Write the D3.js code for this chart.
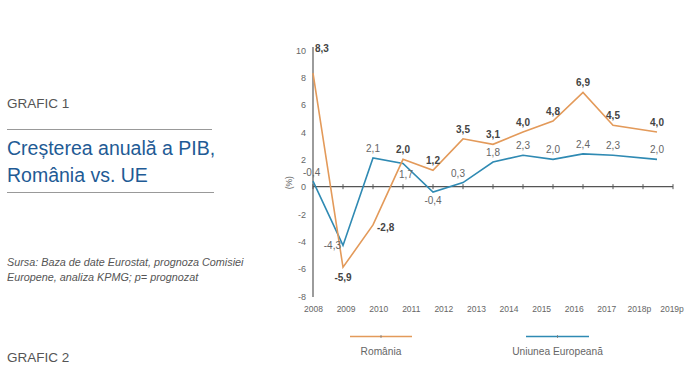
<!DOCTYPE html>
<html><head><meta charset="utf-8">
<script src="https://cdn.jsdelivr.net/npm/d3@7/dist/d3.min.js"></script>
<style>
html,body{margin:0;padding:0;background:#fff;}
svg{display:block;font-family:"Liberation Sans",Arial,sans-serif;}
</style></head>
<body><svg id="c" width="700" height="368"></svg>
<script>
const categories = ["2008","2009","2010","2011","2012","2013","2014","2015","2016","2017","2018p","2019p"];
const romania = [8.3,-5.9,-2.8,2.0,1.2,3.5,3.1,4.0,4.8,6.9,4.5,4.0];
const ue = [0.4,-4.3,2.1,1.7,-0.4,0.3,1.8,2.3,2.0,2.4,2.3,2.0];
const romaniaLabels = ["8,3","-5,9","-2,8","2,0","1,2","3,5","3,1","4,0","4,8","6,9","4,5","4,0"];
const ueLabels = ["-0,4","-4,3","2,1","1,7","-0,4","0,3","1,8","2,3","2,0","2,4","2,3","2,0"];
const yTicks = [10,8,6,4,2,0,-2,-4,-6,-8];
const seriesNames = ["România","Uniunea Europeană"];

const svg = d3.select("#c");
const ORANGE = "#e39a5a", BLUE = "#2f8ab3";

// left text block
svg.append("text").attr("x",7).attr("y",108).attr("font-size",13.5).attr("fill","#555").text("GRAFIC 1");
svg.append("line").attr("x1",7).attr("x2",212).attr("y1",129.5).attr("y2",129.5).attr("stroke","#999").attr("stroke-width",1);
svg.append("text").attr("x",7).attr("y",155).attr("font-size",19.5).attr("fill","#1f5b95").text("Creșterea anuală a PIB,");
svg.append("text").attr("x",7).attr("y",182).attr("font-size",19.5).attr("fill","#1f5b95").text("România vs. UE");
svg.append("line").attr("x1",7).attr("x2",214).attr("y1",192.5).attr("y2",192.5).attr("stroke","#999").attr("stroke-width",1);
svg.append("text").attr("x",7).attr("y",266).attr("font-size",10.8).attr("font-style","italic").attr("fill","#555").text("Sursa: Baza de date Eurostat, prognoza Comisiei");
svg.append("text").attr("x",7).attr("y",281).attr("font-size",10.8).attr("font-style","italic").attr("fill","#555").text("Europene, analiza KPMG;  p= prognozat");
svg.append("text").attr("x",7).attr("y",362).attr("font-size",13.5).attr("fill","#555").text("GRAFIC 2");

// scales
const y = d3.scaleLinear().domain([-8,10]).range([296,50]);
const x = d3.scaleLinear().domain([0,10,11]).range([313,613,657]);
const xTick = d3.scaleLinear().domain([0,12]).range([313,673]);
const xLab = d3.scalePoint().domain(categories).range([313.5,672]);

const g = svg.append("g");
// y axis
g.append("line").attr("x1",313).attr("x2",313).attr("y1",y(10)-3).attr("y2",y(-8)+1).attr("stroke","#666").attr("stroke-width",1.3);
g.selectAll(".yt").data(yTicks).join("text").attr("x",306).attr("y",d=>y(d)+3.5)
 .attr("text-anchor","end").attr("font-size",9).attr("fill","#666").text(d=>d);
g.append("text").attr("transform",`translate(292,${y(0)-4}) rotate(-90)`).attr("text-anchor","middle")
 .attr("font-size",8.5).attr("fill","#666").text("(%)");
// zero line + ticks
g.append("line").attr("x1",313).attr("x2",673).attr("y1",y(0)).attr("y2",y(0)).attr("stroke","#555").attr("stroke-width",1.2);
g.selectAll(".xt").data(d3.range(13)).join("line").attr("x1",d=>xTick(d)).attr("x2",d=>xTick(d))
 .attr("y1",y(0)-2.5).attr("y2",y(0)+2.5).attr("stroke","#555").attr("stroke-width",1);
g.selectAll(".xl").data(categories).join("text").attr("x",d=>xLab(d)).attr("y",312)
 .attr("text-anchor","middle").attr("font-size",8.5).attr("fill","#666").text(d=>d);

const line = d3.line().x((d,i)=>x(i)).y(d=>y(d));
g.append("path").datum(ue).attr("d",line).attr("fill","none").attr("stroke",BLUE).attr("stroke-width",1.6);
g.append("path").datum(romania).attr("d",line).attr("fill","none").attr("stroke",ORANGE).attr("stroke-width",1.6);

// label placements: [dx, dy, anchor]
function roPlace(i){
  if(i===0) return [2,-21,"start"];
  if(i===1) return [0,14,"middle"];
  if(i===2) return [4,6,"start"];
  return [0,-6,"middle"];
}
function uePlace(i){
  if(i===0) return [-10,-5,"start"];
  if(i===1) return [-2,4,"end"];
  if(i===3) return [3,15,"middle"];
  if(i===4) return [0,12,"middle"];
  if(i===5) return [-5,-6,"middle"];
  return [0,-6,"middle"];
}
g.selectAll(".rl").data(romania).join("text")
 .attr("x",(d,i)=>x(i)+roPlace(i)[0]).attr("y",(d,i)=>y(d)+roPlace(i)[1])
 .attr("text-anchor",(d,i)=>roPlace(i)[2]).attr("font-size",10).attr("font-weight","bold").attr("fill","#444")
 .text((d,i)=>romaniaLabels[i]);
g.selectAll(".ul").data(ue).join("text")
 .attr("x",(d,i)=>x(i)+uePlace(i)[0]).attr("y",(d,i)=>y(d)+uePlace(i)[1])
 .attr("text-anchor",(d,i)=>uePlace(i)[2]).attr("font-size",10).attr("fill","#666")
 .text((d,i)=>ueLabels[i]);

// legend
const leg = [{n:seriesNames[0],c:ORANGE,x1:350,x2:412},{n:seriesNames[1],c:BLUE,x1:526,x2:589}];
leg.forEach(l=>{
  svg.append("line").attr("x1",l.x1).attr("x2",l.x2).attr("y1",336.5).attr("y2",336.5).attr("stroke",l.c).attr("stroke-width",1.6);
  svg.append("line").attr("x1",(l.x1+l.x2)/2).attr("x2",(l.x1+l.x2)/2).attr("y1",335).attr("y2",338).attr("stroke","#777").attr("stroke-width",0.8);
  svg.append("text").attr("x",(l.x1+l.x2)/2).attr("y",355).attr("text-anchor","middle").attr("font-size",10.2).attr("fill","#666").text(l.n);
});
</script></body></html>
